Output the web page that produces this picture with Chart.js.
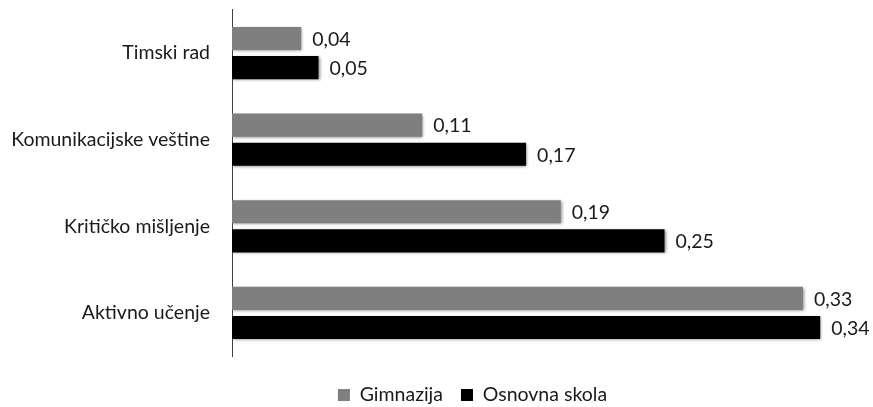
<!DOCTYPE html>
<html>
<head>
<meta charset="utf-8">
<script src="https://cdn.jsdelivr.net/npm/chart.js@4/dist/chart.umd.min.js"></script>
<style>
  html, body { margin: 0; padding: 0; background: #fff; }
  #wrap { width: 873px; height: 407px; }
</style>
</head>
<body>
<div id="wrap"><canvas id="c"></canvas></div>
<script>
const categories = ['Timski rad', 'Komunikacijske veštine', 'Kritičko mišljenje', 'Aktivno učenje'];
const gimnazija = [0.04, 0.11, 0.19, 0.33];
const osnovnaSkola = [0.05, 0.17, 0.25, 0.34];
const seriesNames = ['Gimnazija', 'Osnovna skola'];

const FONT = 'Lato, "Open Sans", sans-serif';
const FONT_SIZE = 19.5;

// Soft shadow around each bar
const barShadow = {
  id: 'barShadow',
  beforeDatasetDraw(chart) {
    const ctx = chart.ctx;
    ctx.save();
    ctx.shadowColor = 'rgba(0,0,0,0.45)';
    ctx.shadowBlur = 3;
    ctx.shadowOffsetX = 1;
    ctx.shadowOffsetY = 1;
  },
  afterDatasetDraw(chart) {
    chart.ctx.restore();
  }
};

// Value labels to the right of every bar, decimal comma
const valueLabels = {
  id: 'valueLabels',
  afterDatasetsDraw(chart) {
    const ctx = chart.ctx;
    ctx.save();
    ctx.font = FONT_SIZE + 'px ' + FONT;
    ctx.fillStyle = '#1a1a1a';
    ctx.textAlign = 'left';
    ctx.textBaseline = 'middle';
    chart.data.datasets.forEach((ds, i) => {
      chart.getDatasetMeta(i).data.forEach((bar, j) => {
        const txt = ds.data[j].toFixed(2).replace('.', ',');
        ctx.fillText(txt, bar.x + 11, bar.y + 1);
      });
    });
    ctx.restore();
  }
};

// Legend sits a little right of the canvas centre
const legendShift = {
  id: 'legendShift',
  afterLayout(chart) {
    const lg = chart.legend;
    if (lg) { lg.left += 36; lg.right += 36; }
  }
};

new Chart(document.getElementById('c'), {
  type: 'bar',
  data: {
    labels: categories,
    datasets: [
      { label: seriesNames[0], data: gimnazija, backgroundColor: '#7f7f7f' },
      { label: seriesNames[1], data: osnovnaSkola, backgroundColor: '#000000' }
    ]
  },
  options: {
    indexAxis: 'y',
    responsive: true,
    maintainAspectRatio: false,
    animation: false,
    categoryPercentage: 0.672,
    barPercentage: 0.793,
    layout: { padding: { top: 0, right: 0, bottom: -7.75, left: 0 } },
    scales: {
      x: {
        min: 0,
        max: 0.3705,
        afterFit(scale) { scale.height = 11; },
        grid: { display: false, drawTicks: false },
        border: { display: false },
        ticks: { display: false }
      },
      y: {
        afterFit(scale) { scale.width = 232; },
        grid: { display: false, drawTicks: true, tickLength: 22 },
        border: { display: true, color: '#404040', width: 1 },
        ticks: {
          padding: 0,
          color: '#1a1a1a',
          font: { family: FONT, size: FONT_SIZE, lineHeight: 1 }
        }
      }
    },
    plugins: {
      legend: {
        position: 'bottom',
        labels: {
          boxWidth: 12,
          boxHeight: 12,
          padding: 18,
          color: '#1a1a1a',
          font: { family: FONT, size: FONT_SIZE }
        }
      },
      tooltip: { enabled: false }
    }
  },
  plugins: [barShadow, valueLabels, legendShift]
});
</script>
</body>
</html>
